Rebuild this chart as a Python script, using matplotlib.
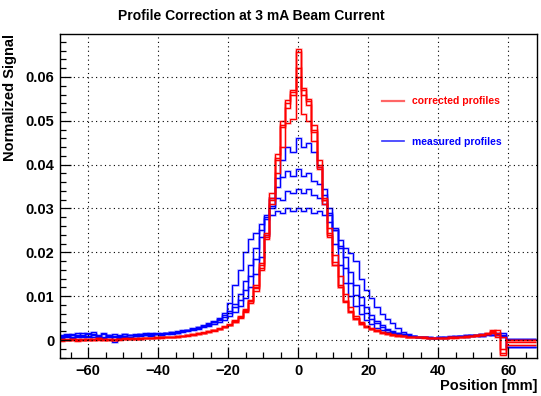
import numpy as np
import matplotlib
matplotlib.use("Agg")
import matplotlib.pyplot as plt
from matplotlib.lines import Line2D
from matplotlib.ticker import MultipleLocator, FuncFormatter

plt.rcParams['font.family'] = ['Liberation Sans', 'DejaVu Sans']
plt.rcParams['font.weight'] = 'bold'

# 1.5 mm channels from -68.25 to 59.25 mm, then one wide channel up to 68 mm
edges = np.append(np.arange(-68.25, 59.26, 1.5), 68.0)

# profile values in units of 1e-4 (normalized signal), one entry per channel
corr_1 = [2, 0, 3, 1, -1, 2, 1, 3, 2, 0, 1, 2, 3, 2, 3, 4, 4, 5, 5, 6, 6, 7, 8, 9, 10, 12,
          15, 17, 19, 22, 25, 29, 35, 42, 50, 65, 85, 112, 160, 230, 320, 410, 490, 540, 570,
          664, 570, 545, 475, 395, 310, 235, 170, 120, 88, 64, 48, 37, 30, 25, 21, 17, 14, 12, 10,
          9, 8, 7, 6, 5, 5, 4, 4, 5, 5, 6, 7, 8, 9, 10, 11, 13, 16, 22, -30, 0]
corr_2 = [0, 2, 1, -2, 1, 3, 0, 4, 1, 2, 0, 3, 2, 4, 3, 3, 5, 4, 6, 5, 7, 8, 8, 10, 11, 12,
          14, 16, 20, 21, 26, 30, 34, 40, 52, 66, 88, 118, 170, 245, 335, 425, 500, 548, 565,
          658, 575, 550, 490, 410, 325, 245, 178, 125, 90, 66, 50, 38, 31, 26, 22, 18, 15, 12, 11,
          10, 8, 7, 7, 6, 5, 5, 4, 4, 6, 5, 8, 9, 10, 12, 11, 14, 23, 15, 8, -5]
corr_3 = [-3, 1, 0, 2, 0, 1, 3, 1, 2, 1, 3, 1, 2, 3, 4, 3, 4, 5, 5, 6, 7, 7, 9, 9, 11, 13,
          15, 18, 20, 23, 27, 31, 37, 45, 55, 70, 92, 125, 175, 240, 310, 380, 440, 495, 505,
          620, 515, 500, 455, 390, 320, 255, 195, 145, 105, 75, 55, 42, 33, 27, 22, 18, 15, 13, 11,
          9, 8, 7, 7, 6, 5, 5, 4, 5, 6, 7, 6, 9, 10, 11, 13, 15, 18, 12, -34, -12]
corr_4 = [1, -1, 2, 0, 3, 1, 2, 5, 0, 2, 1, 2, 4, 3, 2, 5, 4, 4, 6, 6, 6, 8, 9, 10, 12, 13,
          14, 17, 19, 22, 26, 30, 35, 43, 52, 68, 90, 120, 165, 235, 325, 415, 485, 530, 560,
          600, 560, 535, 480, 400, 320, 240, 170, 120, 86, 63, 47, 37, 30, 25, 21, 17, 14, 12, 10,
          9, 8, 8, 6, 6, 5, 4, 5, 4, 6, 6, 8, 8, 10, 11, 12, 15, 20, 8, -20, 0]

meas_1 = [5, 12, 8, 15, 6, 10, 14, 9, 4, 11, 13, 7, 10, 12, 9, 11, 13, 10, 14, 12, 15, 14, 17, 18, 20, 23,
          26, 29, 32, 36, 40, 46, 54, 64, 78, 95, 120, 150, 190, 240, 305, 370, 410, 440, 428,
          460, 440, 450, 428, 395, 345, 285, 220, 170, 130, 100, 78, 60, 46, 36, 28, 22, 18, 15, 13,
          12, 10, 9, 8, 6, 5, 4, 6, 8, 7, 9, 10, 8, 11, 12, 10, 13, 11, 14, 16, 3]
meas_2 = [10, 6, 14, 9, 12, 17, 8, 12, 15, 6, 10, 9, 13, 8, 12, 14, 11, 15, 13, 12, 16, 17, 16, 20, 22, 25,
          28, 32, 35, 40, 46, 52, 62, 75, 92, 115, 145, 185, 235, 285, 325, 350, 372, 385, 375,
          390, 375, 382, 362, 355, 330, 300, 255, 210, 165, 130, 102, 80, 62, 48, 38, 30, 24, 19, 15,
          13, 11, 9, 8, 7, 6, 5, 7, 6, 8, 10, 9, 11, 12, 10, 13, 14, 12, 15, 8, -15]
meas_3 = [8, 14, 5, 11, 16, 7, 11, 6, 13, 9, -4, 12, 8, 11, 13, 9, 15, 12, 13, 17, 14, 18, 19, 21, 23, 26,
          29, 33, 37, 42, 48, 56, 66, 82, 105, 135, 170, 210, 250, 280, 300, 325, 320, 340, 335,
          345, 335, 345, 330, 325, 310, 290, 250, 215, 190, 155, 125, 98, 75, 57, 44, 34, 26, 20, 16,
          13, 11, 9, 7, 6, 6, 5, 4, 7, 9, 8, 10, 12, 9, 11, 13, 12, 15, 14, 12, 2]
meas_4 = [12, 9, 11, 6, 10, 13, 18, 10, 7, 12, 8, 5, 14, 11, 10, 13, 12, 14, 16, 13, 17, 18, 20, 22, 24, 27,
          30, 34, 38, 43, 50, 62, 85, 125, 160, 200, 230, 245, 265, 275, 285, 295, 290, 300, 295,
          300, 295, 300, 290, 295, 285, 270, 250, 228, 210, 198, 180, 140, 115, 95, 75, 60, 48, 38, 27,
          19, 13, 9, 7, 6, 5, 4, 6, 5, 8, 7, 10, 9, 11, 12, 10, 13, 15, 12, 10, -15]

corrected = [corr_1, corr_2, corr_3, corr_4]
measured = [meas_1, meas_2, meas_3, meas_4]

fig = plt.figure(figsize=(5.41, 3.96), dpi=100)
ax = fig.add_axes([60 / 541, 38 / 396, 477 / 541, 324 / 396])

for vals in measured:
    v = np.array(vals) * 1e-4
    ax.stairs(v, edges, color='#0000ff', lw=2.0, alpha=0.2, baseline=None)
    ax.stairs(v, edges, color='#0000ff', lw=0.9, baseline=None)
for vals in corrected:
    v = np.array(vals) * 1e-4
    ax.stairs(v, edges, color='#ff0000', lw=2.0, alpha=0.2, baseline=None)
    ax.stairs(v, edges, color='#ff0000', lw=0.9, baseline=None)

ax.set_xlim(-68, 68.2)
ax.set_ylim(-0.0041, 0.0698)

ax.xaxis.set_major_locator(MultipleLocator(20))
ax.xaxis.set_minor_locator(MultipleLocator(5))
ax.yaxis.set_major_locator(MultipleLocator(0.01))
ax.yaxis.set_minor_locator(MultipleLocator(0.002))
ax.yaxis.set_major_formatter(FuncFormatter(lambda v, p: '0' if abs(v) < 1e-9 else f'{v:.2f}'))

ax.tick_params(axis='both', which='both', direction='in', top=False, right=False,
               labelsize=10.5, width=0.9)
ax.tick_params(axis='y', which='major', length=8, pad=4)
ax.tick_params(axis='y', which='minor', length=4.5)
ax.tick_params(axis='x', which='major', length=8, pad=4)
ax.tick_params(axis='x', which='minor', length=4.5)
for lab in ax.get_xticklabels() + ax.get_yticklabels():
    lab.set_fontweight('bold')

ax.grid(True, which='major', color='black', linestyle=(0, (1, 3)), linewidth=0.8)
for sp in ax.spines.values():
    sp.set_linewidth(1.0)

ax.set_xlabel('Position [mm]', fontsize=10.5, fontweight='bold', loc='right')
ax.xaxis.set_label_coords(1.0, -0.065)
ax.set_ylabel('Normalized Signal', fontsize=10.5, fontweight='bold', loc='top')
ax.yaxis.set_label_coords(-0.09, 1.0)

fig.text(0.464, 0.96, 'Profile Correction at 3 mA Beam Current', ha='center', va='center',
         fontsize=10, fontweight='bold')

handles = [Line2D([], [], color='#ff6666', lw=1.6), Line2D([], [], color='#3333ff', lw=1.2)]
ax.legend(handles, ['corrected profiles', 'measured profiles'], loc='center left',
          bbox_to_anchor=(0.665, 0.73), frameon=False, borderpad=0, handlelength=2.1,
          handletextpad=0.7, labelspacing=2.9, labelcolor=['#ff0000', '#0000ff'],
          prop={'size': 7.5, 'weight': 'bold'})

fig.savefig('out.png', dpi=100)
